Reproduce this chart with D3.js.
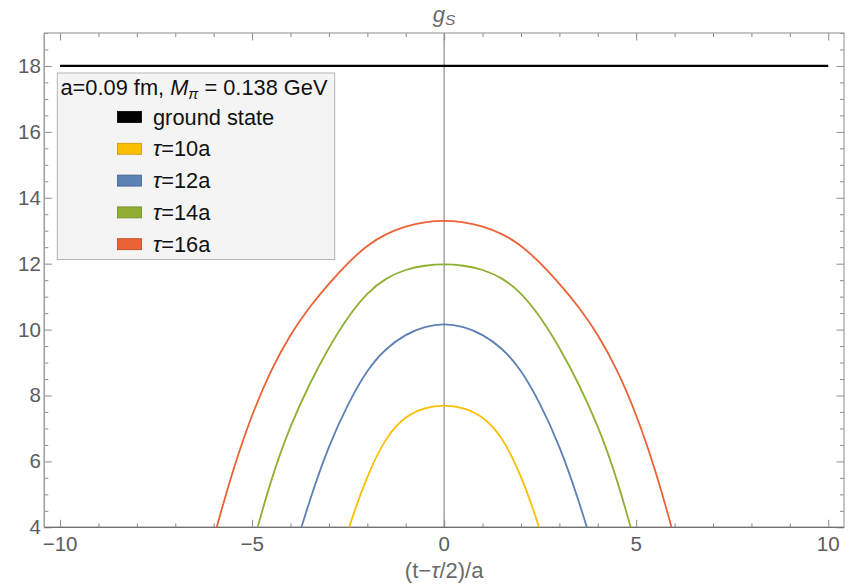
<!DOCTYPE html>
<html><head><meta charset="utf-8">
<script src="https://cdn.jsdelivr.net/npm/d3@7"></script>
<style>body{margin:0;background:#fff}svg{display:block}text{font-family:"Liberation Sans",Arial,sans-serif}</style>
</head><body><svg id="c" width="850" height="587"></svg>
<script>
const xs = [-6.5,-6,-5.5,-5,-4.5,-4,-3.5,-3,-2.5,-2,-1.5,-1,-0.5,0,0.5,1,1.5,2,2.5,3,3.5,4,4.5,5,5.5,6,6.5];
const tau10 = [null,null,null,null,null,null,null,1.9,3.97,5.6,6.78,7.38,7.64,7.72,7.64,7.38,6.78,5.6,3.97,1.9,null,null,null,null,null,null,null];
const tau12 = [null,null,null,null,null,2.9,4.85,6.5,7.76,8.8,9.45,9.86,10.1,10.19,10.1,9.86,9.45,8.8,7.76,6.5,4.85,2.9,null,null,null,null,null];
const tau14 = [null,null,null,3.4,5.5,7.1,8.37,9.47,10.4,11.13,11.58,11.83,11.95,11.99,11.95,11.83,11.58,11.13,10.4,9.47,8.37,7.1,5.5,3.4,null,null,null];
const tau16 = [1.4,3.7,5.75,7.45,8.8,9.87,10.7,11.4,12.03,12.57,12.92,13.14,13.27,13.31,13.27,13.14,12.92,12.57,12.03,11.4,10.7,9.87,8.8,7.45,5.75,3.7,1.4];
const groundX = [-10, 10];
const groundY = [18, 18];
const seriesNames = ["10a","12a","14a","16a"];
const seriesColors = ["#fcbf00","#5e81b5","#8fb032","#eb6235"];
const seriesBorders = ["#c9960a","#3f5f8f","#6d8a22","#b84526"];
const xTicks = [-10,-5,0,5,10];
const yTicks = [4,6,8,10,12,14,16,18];

const svg = d3.select("#c");
const L=44.3,R=844,T=33,B=527.3;
const x = d3.scaleLinear().domain([-10.41,10.41]).range([L,R]);
const y = d3.scaleLinear().domain([4,19]).range([B,T]);
const axisCol="#8a8a8a", labCol="#5c5c5c";

svg.append("defs").append("clipPath").attr("id","clip").append("rect")
  .attr("x",L).attr("y",T).attr("width",R-L).attr("height",B-T);

// zero vertical axis
svg.append("line").attr("x1",x(0)).attr("x2",x(0)).attr("y1",T).attr("y2",B)
  .attr("stroke","#a8a8a8").attr("stroke-width",1.6);

// frame with inward ticks
const xMinor = d3.range(-10,11,1).filter(v=>v%5!==0);
const yMinor = d3.range(4,19.01,0.5).filter(v=>v%2!==0);
const gBottom = svg.append("g").attr("transform",`translate(0,${B})`);
gBottom.call(d3.axisTop(x).tickValues(xTicks).tickSize(7.5).tickFormat(""));
gBottom.append("g").call(d3.axisTop(x).tickValues(xMinor).tickSize(4).tickFormat(""));
const gTop = svg.append("g").attr("transform",`translate(0,${T})`);
gTop.call(d3.axisBottom(x).tickValues(xTicks).tickSize(7.5).tickFormat(""));
gTop.append("g").call(d3.axisBottom(x).tickValues(xMinor).tickSize(4).tickFormat(""));
const gLeft = svg.append("g").attr("transform",`translate(${L},0)`);
gLeft.call(d3.axisRight(y).tickValues(yTicks).tickSize(7.5).tickFormat(""));
gLeft.append("g").call(d3.axisRight(y).tickValues(yMinor).tickSize(4).tickFormat(""));
const gRight = svg.append("g").attr("transform",`translate(${R},0)`);
gRight.call(d3.axisLeft(y).tickValues(yTicks).tickSize(7.5).tickFormat(""));
gRight.append("g").call(d3.axisLeft(y).tickValues(yMinor).tickSize(4).tickFormat(""));
svg.selectAll(".domain").remove();
svg.selectAll(".tick line").attr("stroke",axisCol).attr("stroke-width",1);
svg.append("rect").attr("x",L).attr("y",T).attr("width",R-L).attr("height",B-T)
  .attr("fill","none").attr("stroke","#a0a0a0").attr("stroke-width",1.2);
svg.append("line").attr("x1",L).attr("x2",R).attr("y1",B).attr("y2",B).attr("stroke","#707070").attr("stroke-width",1.2);
svg.append("line").attr("x1",L).attr("x2",L).attr("y1",T).attr("y2",B).attr("stroke","#a0a0a0").attr("stroke-width",1.4);

// tick labels
svg.append("g").selectAll("text").data(xTicks).join("text")
  .attr("x",d=>x(d)).attr("y",B+23.5).attr("text-anchor","middle")
  .attr("font-size",20.5).attr("fill",labCol).text(d=>String(d).replace("-","−"));
svg.append("g").selectAll("text").data(yTicks).join("text")
  .attr("x",L-3.5).attr("y",d=>y(d)+7).attr("text-anchor","end")
  .attr("font-size",20.5).attr("fill",labCol).text(d=>d);

// axis labels
const tt = svg.append("text").attr("x",x(0)).attr("y",22).attr("text-anchor","middle")
  .attr("font-size",22).attr("fill","#6a6a6a");
tt.append("tspan").attr("font-style","italic").text("g");
tt.append("tspan").attr("font-style","italic").attr("font-size",15.5).attr("dy",3).text("S");
const xl = svg.append("text").attr("x",x(0)).attr("y",578).attr("text-anchor","middle")
  .attr("font-size",22).attr("fill","#6a6a6a");
xl.append("tspan").text("(t−");
xl.append("tspan").attr("font-style","italic").text("τ");
xl.append("tspan").text("/2)/a");

// data
const plot = svg.append("g").attr("clip-path","url(#clip)");
plot.append("line").attr("x1",x(groundX[0])).attr("x2",x(groundX[1]))
  .attr("y1",y(groundY[0])).attr("y2",y(groundY[1])).attr("stroke","#000").attr("stroke-width",2.2);
const line = d3.line().defined(d=>d[1]!=null).x(d=>x(d[0])).y(d=>y(d[1])).curve(d3.curveBasis);
[tau10,tau12,tau14,tau16].forEach((s,i)=>{
  plot.append("path").datum(xs.map((v,j)=>[v,s[j]])).attr("d",line)
    .attr("fill","none").attr("stroke",seriesColors[i]).attr("stroke-width",1.8);
});

// legend
const lg = svg.append("g");
lg.append("rect").attr("x",57.3).attr("y",73).attr("width",277.4).attr("height",186.5)
  .attr("fill","#f4f4f4").attr("stroke","#b4b4b4").attr("stroke-width",1);
const lt = lg.append("text").attr("x",60.5).attr("y",94.5).attr("font-size",21.8).attr("fill","#111");
lt.append("tspan").text("a=0.09 fm, ");
lt.append("tspan").attr("font-style","italic").text("M");
lt.append("tspan").attr("font-style","italic").attr("font-size",15).attr("dy",4).text("π");
lt.append("tspan").attr("dy",-4).text(" = 0.138 GeV");
const entries = [{n:"ground state",t:false,c:"#000",b:"#000"}].concat(seriesNames.map((n,i)=>({n,t:true,c:seriesColors[i],b:seriesBorders[i]})));
entries.forEach((e,i)=>{
  const cy = 117 + i*31.8;
  lg.append("rect").attr("x",117.5).attr("y",cy-5.5).attr("width",24).attr("height",11)
    .attr("fill",e.c).attr("stroke",e.b).attr("stroke-width",0.8);
  const tx = lg.append("text").attr("x",153).attr("y",cy+7.5).attr("font-size",21.8).attr("fill","#111");
  if(e.t){ tx.append("tspan").attr("font-style","italic").text("τ"); tx.append("tspan").text("="+e.n); }
  else tx.text(e.n);
});
</script></body></html>
